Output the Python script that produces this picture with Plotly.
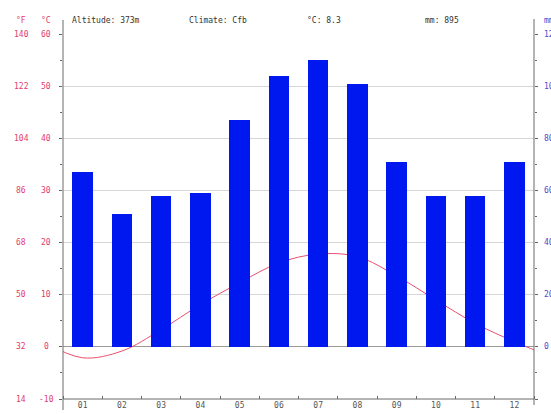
import plotly.graph_objects as go

# Monthly climate normals
months = ["01", "02", "03", "04", "05", "06", "07", "08", "09", "10", "11", "12"]
precip_mm = [67, 51, 58, 59, 87, 104, 110, 101, 71, 58, 58, 71]
temp_c = [-2.1, -0.8, 3.3, 8.1, 12.3, 16.1, 17.8, 17.3, 13.6, 9.0, 4.5, 1.0]

celsius_ticks = [60, 50, 40, 30, 20, 10, 0, -10]
fahrenheit_ticks = ["140", "122", "104", "86", "68", "50", "32", "14"]
mm_ticks = [120, 100, 80, 60, 40, 20, 0]

header = ["Altitude: 373m", "Climate: Cfb", "°C: 8.3", "mm: 895"]

W, H = 551, 414
L, R, T, B = 63, 17, 34, 15
PW, PH = W - L - R, H - T - B

RED = "#e23c6a"
BLUE_TXT = "#4a4ad0"
MONO = "DejaVu Sans Mono"


def px_x(px):
    return (px - L) / PW


def px_y(py):
    return (H - B - py) / PH


x_idx = list(range(1, 13))

fig = go.Figure()

fig.add_trace(go.Bar(
    x=x_idx, y=precip_mm, yaxis="y2",
    marker=dict(color="#0018f0", line=dict(width=0)),
    width=0.52, hoverinfo="skip",
))

# wrap the annual cycle so the curve runs to both edges
line_x = [0] + x_idx + [13]
line_y = [temp_c[-1]] + temp_c + [temp_c[0]]
fig.add_trace(go.Scatter(
    x=line_x, y=line_y, yaxis="y", mode="lines",
    line=dict(color="#e8506e", width=1, shape="spline", smoothing=1.0),
    hoverinfo="skip",
))

fig.update_layout(
    width=W, height=H,
    margin=dict(l=L, r=R, t=T, b=B, autoexpand=False),
    paper_bgcolor="white", plot_bgcolor="white",
    showlegend=False,
    bargap=0,
    xaxis=dict(
        range=[0.5, 12.5], tickvals=x_idx, ticktext=months,
        ticks="", showgrid=False, zeroline=False, automargin=False,
        tickfont=dict(family=MONO, size=8, color="#555555"),
        minor=dict(tick0=0.5, dtick=1, ticks="inside", ticklen=3,
                   tickcolor="#666666", showgrid=False),
        showline=False,
    ),
    yaxis=dict(
        range=[-10, 60], dtick=10, showticklabels=False, automargin=False,
        showgrid=True, gridcolor="#d6d6d6", gridwidth=1,
        zeroline=True, zerolinecolor="#9a9a9a", zerolinewidth=1,
        ticks="outside", ticklen=3, tickcolor="#666666",
        minor=dict(dtick=5, ticks="outside", ticklen=2, tickcolor="#666666"),
        showline=False,
    ),
    yaxis2=dict(
        range=[-20, 120], dtick=20, overlaying="y", side="right",
        showticklabels=False, showgrid=False, zeroline=False, automargin=False,
        ticks="outside", ticklen=3, tickcolor="#666666",
        minor=dict(dtick=10, ticks="outside", ticklen=2, tickcolor="#666666"),
        showline=False,
    ),
)

# axis frame lines
axis_col = "#6a6a6a"
fig.add_shape(type="line", xref="paper", yref="paper",
              x0=0, x1=0, y0=px_y(410), y1=px_y(20),
              line=dict(color=axis_col, width=1))
fig.add_shape(type="line", xref="paper", yref="paper",
              x0=1, x1=1, y0=px_y(405), y1=px_y(19),
              line=dict(color=axis_col, width=1))
fig.add_shape(type="line", xref="paper", yref="paper",
              x0=0, x1=1, y0=0, y1=0,
              line=dict(color=axis_col, width=1))

annotations = []
# temperature labels
for c, f in zip(celsius_ticks, fahrenheit_ticks):
    annotations.append(dict(x=px_x(46), xref="paper", y=c, yref="y",
                            text=str(c), showarrow=False, xanchor="center",
                            font=dict(family=MONO, size=8, color=RED)))
    annotations.append(dict(x=px_x(21), xref="paper", y=c, yref="y",
                            text=f, showarrow=False, xanchor="center",
                            font=dict(family=MONO, size=8, color=RED)))
# precipitation labels
for m in mm_ticks:
    annotations.append(dict(x=px_x(542), xref="paper", y=m, yref="y2",
                            text=str(m), showarrow=False, xanchor="left",
                            font=dict(family=MONO, size=8, color=BLUE_TXT)))
# unit headers
annotations.append(dict(x=px_x(21), xref="paper", y=px_y(14), yref="paper",
                        text="°F", showarrow=False, xanchor="center",
                        font=dict(family=MONO, size=8, color=RED)))
annotations.append(dict(x=px_x(46), xref="paper", y=px_y(14), yref="paper",
                        text="°C", showarrow=False, xanchor="center",
                        font=dict(family=MONO, size=8, color=RED)))
annotations.append(dict(x=px_x(542), xref="paper", y=px_y(14), yref="paper",
                        text="mm", showarrow=False, xanchor="left",
                        font=dict(family=MONO, size=8, color=BLUE_TXT)))
# summary line
for txt, px in zip(header, [70, 187, 305, 423]):
    annotations.append(dict(x=px_x(px), xref="paper", y=px_y(14), yref="paper",
                            text=txt, showarrow=False, xanchor="left",
                            font=dict(family=MONO, size=8, color="#333333")))

fig.update_layout(annotations=annotations)

fig.write_html("out.html")
